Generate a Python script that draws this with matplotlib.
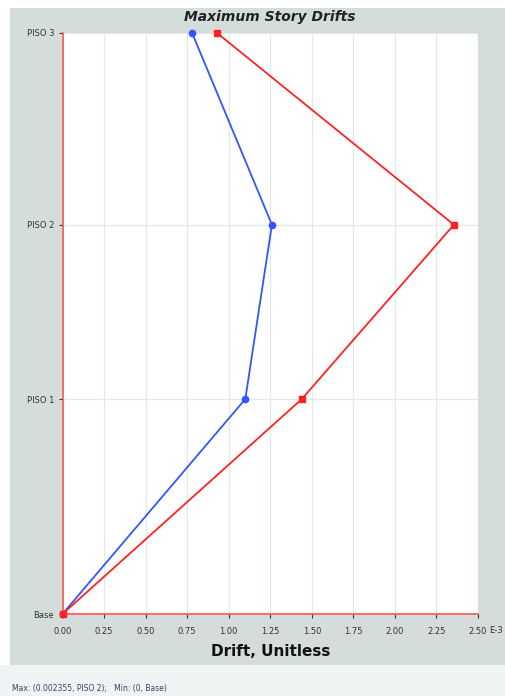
import matplotlib
matplotlib.use("Agg")
import matplotlib.pyplot as plt
from matplotlib.patches import Rectangle

# Story levels and their elevations (m)
stories = ["Base", "PISO 1", "PISO 2", "PISO 3"]
elevations = [0.0, 3.7, 6.7, 10.0]

# Maximum drifts per story (x 1E-3)
drift_x = [0.0, 1.10, 1.26, 0.78]
drift_y = [0.0, 1.44, 2.355, 0.93]

xticks = [0.00, 0.25, 0.50, 0.75, 1.00, 1.25, 1.50, 1.75, 2.00, 2.25, 2.50]

fig = plt.figure(figsize=(5.05, 6.96), dpi=100)
fig.patch.set_facecolor("#f0f3f3")

W, H = 505, 696
# white strip on top/left, grey panel behind the plot
fig.patches.append(Rectangle((0, 0), 1, 1, transform=fig.transFigure,
                             facecolor="white", edgecolor="none", zorder=-3))
fig.patches.append(Rectangle((0, 0), 1, (H - 665) / H, transform=fig.transFigure,
                             facecolor="#f0f3f3", edgecolor="none", zorder=-2))
fig.patches.append(Rectangle((10 / W, (H - 665) / H), 1 - 10 / W, (665 - 8) / H,
                             transform=fig.transFigure, facecolor="#d5dcdc",
                             edgecolor="none", zorder=-1))

ax = fig.add_axes([62.5 / W, (H - 614) / H, (478 - 62.5) / W, (614 - 33) / H])
ax.set_facecolor("white")

ax.plot(drift_x, elevations, color="#3355ff", lw=1.3, marker="o", ms=4.5,
        clip_on=False, zorder=3)
ax.plot(drift_y, elevations, color="#ff2222", lw=1.3, marker="s", ms=4,
        clip_on=False, zorder=3)

ax.set_xlim(0, 2.5)
ax.set_ylim(0, 10.0)
ax.set_xticks(xticks)
ax.set_xticklabels([f"{v:.2f}" for v in xticks])
ax.set_yticks(elevations)
ax.set_yticklabels(stories)

ax.grid(True, color="#e3e9e9", lw=0.9)
ax.set_axisbelow(True)
for s in ["top", "right"]:
    ax.spines[s].set_visible(False)
for s in ["left", "bottom"]:
    ax.spines[s].set_color("#ff5555")
    ax.spines[s].set_linewidth(1.2)

ax.tick_params(axis="both", labelsize=6, colors="#333333", length=3, width=0.8)
ax.tick_params(axis="x", pad=6)
ax.tick_params(axis="y", pad=3)

# exponent placed on the same line as the last tick label
ax.annotate("E-3", xy=(1.0, 0.0), xycoords="axes fraction",
            xytext=(11, -16.5), textcoords="offset pixels",
            fontsize=6, color="#333333", ha="left", va="center")

ax.set_xlabel("Drift, Unitless", fontsize=11, fontweight="bold", color="#111111",
              labelpad=6)
fig.text(270 / W, 1 - 17 / H, "Maximum Story Drifts", fontsize=10,
         fontweight="bold", fontstyle="italic", color="#222222",
         ha="center", va="center")

fig.text(12 / W, 1 - 688 / H, "Max: (0.002355, PISO 2);   Min: (0, Base)",
         fontsize=5.5, color="#334466", ha="left", va="center")

fig.savefig("out.png", dpi=100, facecolor=fig.get_facecolor())
